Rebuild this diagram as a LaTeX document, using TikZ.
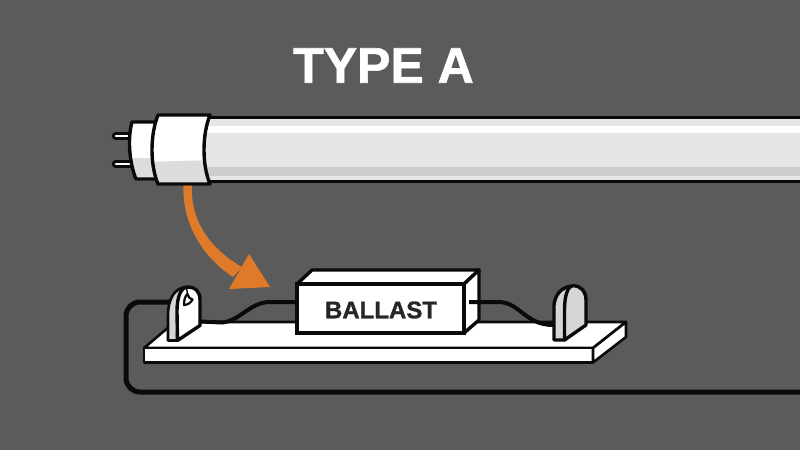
\documentclass[tikz,border=0pt]{standalone}
\usepackage{fontspec}
\setmainfont[BoldFeatures={FakeBold=1.2}]{Liberation Sans}
\definecolor{bgc}{HTML}{5B5B5B}
\definecolor{ink}{HTML}{0A0A0A}
\definecolor{tubeL}{HTML}{E6E6E6}
\definecolor{tubeM}{HTML}{CDCDCD}
\definecolor{capS}{HTML}{DCDCDC}
\definecolor{holdG}{HTML}{D6D6D6}
\definecolor{orng}{HTML}{DE7A28}
\tikzset{
  outl/.style={draw=ink,line width=3.4pt,line join=round},
  thin outl/.style={draw=ink,line width=2.6pt,line join=round},
  wire/.style={draw=ink,line width=4pt,line cap=butt},
  titletxt/.style={text=white,font=\bfseries\fontsize{50}{50}\selectfont,inner sep=0pt},
  labeltxt/.style={text=black!85,font=\bfseries\fontsize{24}{24}\selectfont,inner sep=0pt}
}
\begin{document}
\begin{tikzpicture}[x=1pt,y=-1pt]
\useasboundingbox (0,0) rectangle (800,450);
\fill[bgc] (0,0) rectangle (800,450);
\node[titletxt] (title) at (383.5,65.5) {TYPE A};
% long return wire
\coordinate (wireA) at (170,302);
\coordinate (wireEnd) at (800,392);
\draw[ink,line width=5pt,rounded corners=14pt] (wireA) -- (126,302) -- (126,392) -- (wireEnd);
% tube
\fill[tubeL] (200,118) rectangle (800,181);
\fill[white] (200,126) rectangle (800,133);
\fill[tubeM] (200,167) rectangle (800,176);
\draw[ink,line width=3pt] (200,117.5) -- (800,117.5) (200,181.5) -- (800,181.5);
% pins
\foreach \y/\n in {136/pinA,164/pinB}{
  \draw[ink,line width=7.4pt,line cap=round] (115.5,\y) -- (132,\y);
  \draw[white,line width=2.8pt,line cap=round] (116,\y) -- (132,\y);
}
% end cap
\path[fill=white] (132,122) -- (158,122) -- (158,180) -- (136,180) .. controls (130,165) and (127,140) .. (132,122) -- cycle;
\begin{scope}
\clip (132,122) -- (158,122) -- (158,180) -- (136,180) .. controls (130,165) and (127,140) .. (132,122) -- cycle;
\fill[capS] (120,158) rectangle (160,182);
\end{scope}
\draw[outl] (155,122) -- (132,122) .. controls (127,140) and (130,165) .. (136,179) -- (155,179);
% collar
\path[fill=white] (158,115) -- (210,115) .. controls (202,135) and (202,165) .. (210,184) -- (158,184) .. controls (150,165) and (150,135) .. (158,115) -- cycle;
\begin{scope}
\clip (158,115) -- (210,115) .. controls (202,135) and (202,165) .. (210,184) -- (158,184) .. controls (150,165) and (150,135) .. (158,115) -- cycle;
\fill[capS] (145,162) -- (215,160) -- (215,190) -- (145,190) -- cycle;
\end{scope}
\draw[outl] (158,115) -- (210,115) .. controls (202,135) and (202,165) .. (210,184) -- (158,184) .. controls (150,165) and (150,135) .. (158,115) -- cycle;
% orange arrow
\fill[orng] (183.5,185.5) .. controls (182,225) and (204,258) .. (233,277) -- (242,267) .. controls (212,250) and (190,222) .. (192,185.5) -- cycle;
\fill[orng] (249,254) -- (270,287) -- (229,289) -- cycle;
% base
\path[fill=white,thin outl] (144,348) -- (170,326) -- (200,322) -- (626,322) -- (593,348) -- cycle;
\path[fill=white,thin outl] (144,348) -- (593,348) -- (593,362.5) -- (144,362.5) -- cycle;
\path[fill=white,thin outl] (593,348) -- (626,322) -- (626,337) -- (593,362.5) -- cycle;
% ballast
\path[fill=white,outl] (297,284) -- (312,270) -- (479,270) -- (464,284) -- cycle;
\path[fill=white,outl] (464,284) -- (479,270) -- (479,320) -- (464,333) -- cycle;
\node[draw=ink,line width=3.4pt,fill=white,anchor=north west,inner sep=0pt,outer sep=0pt,minimum width=167pt,minimum height=49pt] (ballastbox) at (297,284) {};
\node[labeltxt] (ballastlabel) at (381,310) {BALLAST};
% wires
\draw[wire] (297,302) -- (270,302) .. controls (250,302) and (240,321) .. (222,322.5) -- (200,321.5);
\draw[wire] (469,302) -- (498,302) .. controls (520,302) and (525,325) .. (553,325);
% left holder
\path[fill=holdG,thin outl] (168,340.5) -- (168,315) .. controls (168,300) and (174,288) .. (186,287) -- (178,310) -- (177,340.5) -- cycle;
\path[fill=white,outl] (177.5,340.5) -- (200,325.5) -- (200,300) .. controls (200,291) and (195,287) .. (188,287) .. controls (181,287) and (177,296) .. (177,312) -- cycle;
\draw[ink,line width=1.4pt] (186.5,288) -- (187.5,294);
\path[fill=white,draw=ink,line width=2.2pt,line join=round] (184,305) .. controls (184,300) and (185,296) .. (187.5,294) .. controls (188,297) and (190,299) .. (192.5,299.5) .. controls (191,303) and (187,305) .. (184,305) -- cycle;
% right holder
\path[fill=holdG,outl] (554,340) -- (554,305) .. controls (555,295) and (561,287) .. (572,286) -- (565,310) -- (565,340) -- cycle;
\path[fill=holdG,outl] (564.5,340) -- (586,325) -- (586,300) .. controls (586,291) and (580,285.5) .. (573,285.5) .. controls (568,286) and (564.5,295) .. (564.5,310) -- cycle;
\end{tikzpicture}
\end{document}
